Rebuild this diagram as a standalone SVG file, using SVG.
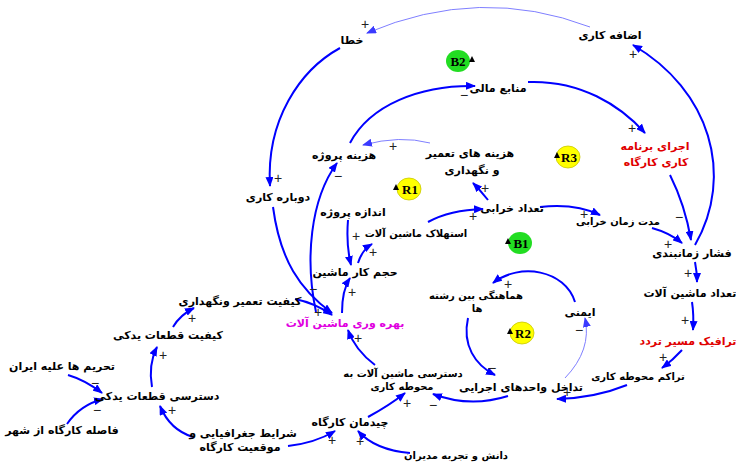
<svg xmlns="http://www.w3.org/2000/svg" width="736" height="467" viewBox="0 0 736 467">
<defs>
<marker id="ah" viewBox="0 0 10 8" refX="9" refY="4" markerWidth="10" markerHeight="8" markerUnits="userSpaceOnUse" orient="auto">
<path d="M0,0 L10,4 L0,8 Z" fill="#0000ff"/>
</marker>
<marker id="ahl" viewBox="0 0 10 8" refX="9" refY="4" markerWidth="10" markerHeight="8" markerUnits="userSpaceOnUse" orient="auto">
<path d="M0,0 L10,4 L0,8 Z" fill="#3a3aff"/>
</marker>
<style>
.t{font-family:"DejaVu Sans","Noto Sans",sans-serif;font-size:11px;font-weight:bold;fill:#000;text-anchor:middle}
.s{font-size:10px}
.red{fill:#e00000}
.mag{fill:#e000e0}
.c{fill:none;stroke:#0000ff;stroke-width:2;marker-end:url(#ah)}
.cl{fill:none;stroke:#7f7fff;stroke-width:1;marker-end:url(#ahl)}
.g{font-family:"Liberation Sans",sans-serif;font-size:14px;fill:#222;text-anchor:middle}
.lp{font-family:"Liberation Serif",serif;font-size:13px;font-weight:bold;fill:#000;text-anchor:middle}
.gr{fill:#22dd22}
.ye{fill:#ffff00;stroke:#c8c800;stroke-width:0.8}
</style>
</defs>
<rect width="736" height="467" fill="#fff"/>
<g id="connectors">
<path class="cl" d="M590,27 Q480,-15 367,33"/>
<path class="c" d="M340,48 C300,70 266,120 270,186"/>
<path class="c" d="M273,207 C280,260 300,290 332,313"/>
<path class="c" d="M316,312 C305,260 310,200 337,163"/>
<path class="cl" d="M430,143 Q400,135 363,145"/>
<path class="c" d="M350,143 C370,105 420,85 475,86"/>
<path class="c" d="M528,82 C580,80 620,105 645,133"/>
<path class="c" d="M695,245 C735,175 710,90 633,45"/>
<path class="c" d="M670,175 Q685,205 691,240"/>
<path class="c" d="M652,228 Q670,233 682,243"/>
<path class="c" d="M540,207 Q575,203 600,215"/>
<path class="c" d="M488,200 Q480,190 473,183"/>
<path class="c" d="M428,222 Q450,210 483,209"/>
<path class="c" d="M358,263 Q362,250 372,244"/>
<path class="c" d="M348,220 Q346,245 351,265"/>
<path class="c" d="M342,313 Q342,290 350,278"/>
<path class="c" d="M295,299 Q315,303 332,315"/>
<path class="c" d="M173,327 Q180,315 194,308"/>
<path class="c" d="M152,387 Q148,365 157,347"/>
<path class="c" d="M68,375 Q85,380 102,393"/>
<path class="c" d="M67,424 Q80,405 103,399"/>
<path class="c" d="M193,437 Q170,430 160,406"/>
<path class="c" d="M288,446 Q315,443 335,431"/>
<path class="c" d="M410,453 Q375,450 358,431"/>
<path class="c" d="M368,417 Q390,405 405,393"/>
<path class="c" d="M375,365 Q355,350 348,330"/>
<path class="c" d="M508,396 Q470,408 433,394"/>
<path class="c" d="M627,385 Q595,398 557,399"/>
<path class="c" d="M682,350 Q673,360 662,368"/>
<path class="c" d="M692,302 Q694,315 693,330"/>
<path class="c" d="M695,262 Q697,272 697,282"/>
<path class="cl" d="M565,378 Q592,350 585,318"/>
<path class="c" d="M575,302 C565,270 520,262 493,283"/>
<path class="c" d="M468,318 C462,345 475,365 495,375"/>
<g id="signs">
<text class="g" x="365" y="29">+</text>
<text class="g" x="278" y="183">+</text>
<text class="g" x="313" y="294">−</text>
<text class="g" x="338" y="181">−</text>
<text class="g" x="393" y="151">+</text>
<text class="g" x="464" y="100">−</text>
<text class="g" x="632" y="133">+</text>
<text class="g" x="633" y="59">+</text>
<text class="g" x="679" y="222">−</text>
<text class="g" x="668" y="249">+</text>
<text class="g" x="584" y="219">+</text>
<text class="g" x="485" y="193">+</text>
<text class="g" x="473" y="221">+</text>
<text class="g" x="373" y="257">+</text>
<text class="g" x="356" y="241">+</text>
<text class="g" x="352" y="297">+</text>
<text class="g" x="318" y="317">+</text>
<text class="g" x="192" y="323">+</text>
<text class="g" x="163" y="360">+</text>
<text class="g" x="95" y="388">−</text>
<text class="g" x="97" y="415">−</text>
<text class="g" x="172" y="415">+</text>
<text class="g" x="332" y="445">+</text>
<text class="g" x="360" y="446">+</text>
<text class="g" x="407" y="408">+</text>
<text class="g" x="358" y="343">+</text>
<text class="g" x="433" y="410">−</text>
<text class="g" x="567" y="397">+</text>
<text class="g" x="663" y="362">+</text>
<text class="g" x="685" y="325">+</text>
<text class="g" x="688" y="278">+</text>
<text class="g" x="579" y="335">−</text>
<text class="g" x="508" y="289">+</text>
<text class="g" x="492" y="373">−</text>
</g>
</g>
<g id="loop-B2"><ellipse class="gr" cx="458" cy="61" rx="12" ry="11"/><text class="lp" x="458" y="66">B2</text><path d="M469,62 L472,56 L475,62 Z"/></g>
<g id="loop-R1"><ellipse class="ye" cx="409" cy="189" rx="12" ry="11"/><text class="lp" x="410" y="194">R1</text><path d="M393,190 L396,184 L399,190 Z"/></g>
<g id="loop-R3"><ellipse class="ye" cx="568" cy="157" rx="12" ry="11"/><text class="lp" x="569" y="162">R3</text><path d="M554,158 L557,152 L560,158 Z"/></g>
<g id="loop-B1"><ellipse class="gr" cx="520" cy="243" rx="12" ry="11"/><text class="lp" x="521" y="248">B1</text><path d="M505,244 L508,238 L511,244 Z"/></g>
<g id="loop-R2"><ellipse class="ye" cx="522" cy="333" rx="12" ry="11"/><text class="lp" x="523" y="338">R2</text><path d="M507,334 L510,328 L513,334 Z"/></g>
<g id="n1"><text class="t" x="352" y="44">خطا</text></g>
<g id="n2"><text class="t" x="610" y="39">اضافه کاری</text></g>
<g id="n3"><text class="t" x="498" y="92">منابع مالی</text></g>
<g id="n4"><text class="t red" x="655" y="150">اجرای برنامه</text><text class="t red" x="656" y="166">کاری کارگاه</text></g>
<g id="n5"><text class="t" x="344" y="159">هزینه پروژه</text></g>
<g id="n6"><text class="t" x="470" y="157">هزینه های تعمیر</text><text class="t" x="472" y="174">و نگهداری</text></g>
<g id="n7"><text class="t" x="278" y="201">دوباره کاری</text></g>
<g id="n8"><text class="t" x="353" y="216">اندازه پروژه</text></g>
<g id="n9"><text class="t s" x="416" y="237">استهلاک ماشین آلات</text></g>
<g id="n10"><text class="t" x="512" y="212">تعداد خرابی</text></g>
<g id="n11"><text class="t s" x="618" y="225">مدت زمان خرابی</text></g>
<g id="n12"><text class="t" x="692" y="257">فشار زمانبندی</text></g>
<g id="n13"><text class="t" x="690" y="297">تعداد ماشین آلات</text></g>
<g id="n14"><text class="t red" x="688" y="345">ترافیک مسیر تردد</text></g>
<g id="n15"><text class="t s" x="638" y="380">تراکم محوطه کاری</text></g>
<g id="n16"><text class="t" x="580" y="316">ایمنی</text></g>
<g id="n17"><text class="t s" x="476" y="299">هماهنگی بین رشته</text><text class="t s" x="477" y="312">ها</text></g>
<g id="n18"><text class="t" x="521" y="391">تداخل واحدهای اجرایی</text></g>
<g id="n19"><text class="t s" x="403" y="377">دسترسی ماشین آلات به</text><text class="t s" x="402" y="390">محوطه کاری</text></g>
<g id="n20"><text class="t mag" x="345" y="327">بهره وری ماشین آلات</text></g>
<g id="n21"><text class="t" x="355" y="276">حجم کار ماشین</text></g>
<g id="n22"><text class="t" x="240" y="305">کیفیت تعمیر ونگهداری</text></g>
<g id="n23"><text class="t" x="168" y="339">کیفیت قطعات یدکی</text></g>
<g id="n24"><text class="t" x="157" y="400">دسترسی قطعات یدکی</text></g>
<g id="n25"><text class="t" x="62" y="370">تحریم ها علیه ایران</text></g>
<g id="n26"><text class="t" x="62" y="434">فاصله کارگاه از شهر</text></g>
<g id="n27"><text class="t" x="243" y="437">شرایط جغرافیایی و</text><text class="t" x="240" y="451">موقعیت کارگاه</text></g>
<g id="n28"><text class="t" x="350" y="426">چیدمان کارگاه</text></g>
<g id="n29"><text class="t s" x="456" y="459">دانش و تجربه مدیران</text></g>
</svg>
